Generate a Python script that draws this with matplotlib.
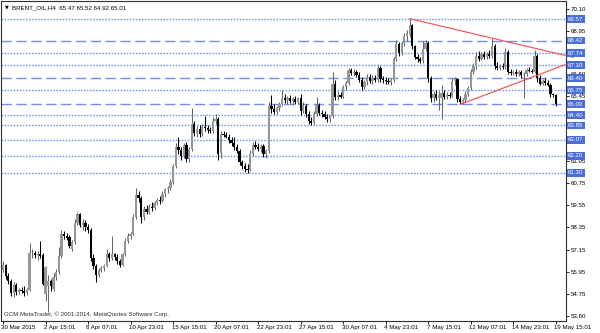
import matplotlib.pyplot as plt
from matplotlib.transforms import blended_transform_factory

# BRENT_OIL H4 candles (one value per bar)
opens = [56.05, 56.35, 55.75, 55.45, 54.80, 55.25, 54.85, 55.00, 54.90, 54.80,
         55.00, 56.95, 57.00, 56.85, 56.90, 56.85, 54.75, 55.20, 55.45, 55.05,
         55.70, 55.95, 56.80, 58.00, 57.90, 57.85, 57.20, 57.55, 58.60, 59.05,
         58.50, 58.60, 58.35, 58.20, 56.70, 56.25, 55.80, 56.05, 56.15, 56.30,
         56.90, 56.70, 56.90, 56.75, 56.55, 56.35, 56.90, 57.60, 57.90, 58.00,
         58.90, 60.10, 59.95, 58.90, 59.35, 59.20, 59.45, 59.40, 59.65, 59.85,
         59.75, 60.15, 60.40, 60.50, 60.80, 61.65, 62.70, 62.50, 62.20, 62.80,
         62.05, 62.55, 63.90, 63.45, 63.65, 63.40, 63.75, 63.70, 63.60, 63.55,
         64.10, 64.20, 62.35, 63.40, 63.35, 63.25, 63.05, 62.90, 62.70, 62.45,
         61.85, 61.65, 61.50, 61.45, 62.30, 62.80, 62.70, 62.60, 62.75, 62.30,
         62.45, 64.90, 64.75, 64.55, 64.80, 65.00, 65.35, 65.20, 65.30, 65.15,
         65.25, 65.10, 65.30, 64.60, 64.90, 64.45, 64.10, 64.00, 64.45, 64.95,
         64.50, 64.45, 64.30, 64.20, 64.35, 66.10, 65.40, 65.50, 65.40, 65.90,
         66.15, 66.85, 66.65, 66.75, 66.55, 66.30, 65.90, 66.20, 66.45, 66.25,
         66.40, 66.30, 66.95, 66.35, 66.30, 66.25, 66.20, 66.30, 67.40, 68.25,
         67.75, 68.30, 68.65, 68.70, 69.25, 68.10, 67.55, 67.40, 67.30, 67.95,
         68.30, 66.40, 65.30, 65.55, 65.35, 65.30, 65.60, 65.40, 65.50, 65.45,
         66.25, 66.35, 65.25, 65.10, 65.20, 65.55, 65.85, 66.75, 67.05, 67.60,
         67.45, 67.70, 67.55, 67.70, 67.60, 68.15, 67.05, 66.95, 67.05, 67.00,
         67.80, 66.75, 66.65, 66.75, 66.60, 66.70, 66.55, 66.60, 66.85, 66.80,
         66.75, 67.60, 66.40, 66.10, 66.25, 66.15, 66.05, 65.55, 65.47]
highs = [56.55, 56.40, 55.90, 55.60, 55.40, 55.35, 55.10, 55.15, 55.20, 55.10,
         57.50, 57.20, 57.10, 57.10, 57.60, 56.95, 56.30, 55.80, 55.60, 55.90,
         56.10, 57.30, 58.20, 58.15, 58.05, 57.95, 57.70, 58.80, 59.20, 59.15,
         58.80, 58.75, 58.55, 58.30, 56.90, 56.40, 56.15, 56.25, 56.40, 57.20,
         57.05, 57.90, 57.00, 56.90, 56.65, 57.00, 57.80, 58.05, 58.10, 59.10,
         60.50, 60.30, 60.05, 59.50, 59.55, 59.60, 59.70, 59.80, 59.95, 60.05,
         60.30, 60.50, 60.60, 60.95, 61.75, 62.90, 63.20, 62.70, 62.90, 62.95,
         62.70, 64.80, 64.10, 63.80, 63.85, 63.90, 64.35, 63.85, 63.75, 64.30,
         64.45, 64.30, 63.55, 63.55, 63.50, 63.40, 63.25, 63.20, 62.85, 62.60,
         62.00, 61.80, 61.75, 62.50, 62.95, 63.00, 62.90, 62.85, 62.85, 62.55,
         65.10, 65.50, 65.00, 64.90, 65.10, 65.75, 65.55, 65.45, 65.50, 65.40,
         65.45, 65.40, 65.55, 65.10, 65.00, 64.60, 64.30, 64.60, 65.40, 65.05,
         64.70, 64.60, 64.45, 64.40, 66.70, 66.30, 65.70, 65.65, 66.00, 66.25,
         66.95, 66.95, 66.90, 66.85, 66.70, 66.45, 66.30, 66.60, 66.60, 66.55,
         66.55, 67.10, 67.05, 66.50, 66.45, 66.40, 66.40, 67.55, 68.45, 68.35,
         68.40, 68.80, 69.00, 69.60, 69.30, 68.20, 67.70, 67.55, 68.40, 68.45,
         68.40, 66.50, 65.70, 65.75, 65.70, 66.00, 65.75, 65.65, 65.65, 66.40,
         66.45, 66.40, 65.45, 65.35, 65.70, 65.95, 66.90, 67.20, 67.80, 67.85,
         67.80, 67.85, 67.80, 67.90, 68.55, 68.25, 67.25, 67.15, 67.20, 68.00,
         67.90, 66.90, 66.85, 66.90, 66.85, 66.85, 66.75, 66.95, 67.00, 66.90,
         67.90, 67.70, 66.55, 66.35, 66.40, 66.30, 66.15, 65.60, 65.52]
lows = [55.95, 55.60, 55.30, 54.65, 54.60, 54.70, 54.75, 54.80, 54.65, 54.70,
        54.95, 56.70, 56.70, 56.60, 56.70, 55.25, 54.40, 53.80, 54.95, 54.95,
        55.50, 55.85, 56.70, 57.75, 57.70, 57.25, 57.10, 57.45, 58.50, 58.40,
        58.20, 58.15, 58.05, 56.55, 56.10, 55.40, 55.70, 55.95, 56.00, 56.20,
        56.55, 56.60, 56.60, 56.40, 56.20, 56.30, 56.80, 57.50, 57.75, 57.95,
        58.80, 59.70, 58.60, 58.75, 59.05, 59.10, 59.25, 59.30, 59.55, 59.60,
        59.70, 60.00, 60.20, 60.35, 60.70, 61.55, 62.30, 62.00, 62.10, 61.90,
        61.85, 62.45, 63.30, 63.20, 63.25, 63.30, 63.55, 63.45, 63.45, 63.45,
        63.95, 62.00, 62.10, 63.25, 63.15, 62.90, 62.75, 62.50, 62.35, 61.70,
        61.50, 61.35, 61.30, 61.40, 62.20, 62.55, 62.45, 62.40, 62.15, 62.10,
        62.35, 64.50, 64.45, 64.45, 64.60, 64.90, 65.05, 65.00, 65.05, 64.95,
        65.00, 65.00, 64.40, 64.50, 64.30, 63.95, 63.85, 63.95, 64.35, 64.40,
        64.30, 64.20, 64.05, 64.05, 64.25, 65.20, 65.20, 65.30, 65.30, 65.75,
        66.05, 66.55, 66.50, 66.45, 66.20, 65.75, 65.80, 66.05, 66.15, 66.10,
        66.20, 66.20, 66.20, 66.15, 66.10, 66.10, 66.05, 66.20, 67.30, 67.60,
        67.65, 68.10, 68.40, 68.60, 67.95, 67.40, 67.25, 67.20, 67.20, 67.85,
        66.20, 65.10, 65.10, 65.20, 64.70, 64.20, 65.25, 65.25, 65.30, 65.40,
        66.05, 65.10, 64.98, 65.00, 65.10, 65.45, 65.75, 66.60, 66.90, 67.30,
        67.35, 67.45, 67.45, 67.50, 67.50, 66.90, 66.85, 66.85, 66.90, 66.90,
        66.60, 66.55, 66.55, 66.50, 66.50, 66.40, 65.30, 66.50, 66.70, 66.65,
        66.65, 66.20, 66.00, 66.00, 66.05, 65.95, 65.40, 65.40, 64.92]
closes = [56.35, 55.75, 55.45, 54.80, 55.25, 54.85, 55.00, 54.90, 54.80, 55.00,
          56.95, 57.00, 56.85, 56.90, 56.80, 55.30, 56.20, 55.45, 55.20, 55.70,
          55.95, 56.80, 58.00, 57.90, 57.80, 57.35, 57.55, 58.60, 59.05, 58.50,
          58.60, 58.35, 58.20, 56.70, 56.25, 55.80, 56.05, 56.15, 56.30, 56.90,
          56.70, 56.90, 56.75, 56.55, 56.35, 56.90, 57.60, 57.90, 58.00, 58.90,
          60.10, 59.95, 58.90, 59.35, 59.20, 59.45, 59.40, 59.65, 59.85, 59.75,
          60.15, 60.40, 60.50, 60.80, 61.65, 62.70, 62.50, 62.20, 62.80, 62.05,
          62.55, 63.90, 63.45, 63.65, 63.40, 63.75, 63.70, 63.60, 63.55, 64.10,
          64.20, 62.30, 63.40, 63.35, 63.25, 63.05, 62.90, 62.70, 62.45, 61.85,
          61.65, 61.50, 61.45, 62.30, 62.80, 62.70, 62.60, 62.75, 62.30, 62.45,
          64.90, 64.75, 64.55, 64.80, 65.00, 65.35, 65.20, 65.30, 65.15, 65.25,
          65.10, 65.30, 64.60, 64.90, 64.45, 64.10, 64.00, 64.45, 64.95, 64.50,
          64.45, 64.30, 64.20, 64.35, 66.10, 65.40, 65.50, 65.40, 65.90, 66.15,
          66.85, 66.65, 66.75, 66.55, 66.30, 65.90, 66.20, 66.45, 66.25, 66.40,
          66.30, 66.95, 66.35, 66.30, 66.25, 66.20, 66.30, 67.40, 68.25, 67.75,
          68.30, 68.65, 68.85, 69.25, 68.10, 67.55, 67.40, 67.30, 67.95, 68.30,
          66.40, 65.30, 65.55, 65.35, 65.50, 65.60, 65.40, 65.50, 65.45, 66.25,
          66.35, 65.25, 65.10, 65.20, 65.55, 65.85, 66.75, 67.05, 67.60, 67.45,
          67.70, 67.55, 67.70, 67.60, 68.15, 67.05, 66.95, 67.05, 67.00, 67.80,
          66.75, 66.65, 66.75, 66.60, 66.70, 66.55, 66.60, 66.85, 66.80, 66.75,
          67.60, 66.40, 66.10, 66.25, 66.15, 66.05, 65.55, 65.47, 65.01]

time_labels = ["30 Mar 2015", "2 Apr 15:01", "8 Apr 07:01", "10 Apr 23:01",
               "15 Apr 15:01", "20 Apr 07:01", "22 Apr 23:01", "27 Apr 15:01",
               "30 Apr 07:01", "4 May 23:01", "7 May 15:01", "12 May 07:01",
               "14 May 23:01", "19 May 15:01"]
label_every = 16

# price scale labels that are not hidden behind the level boxes
price_ticks = [70.10, 68.95, 66.60, 65.45, 61.95, 60.75, 59.55,
               58.35, 57.15, 55.95, 54.75, 53.60]
levels = [69.57, 68.42, 67.74, 67.10, 66.40, 65.75, 65.00,
          64.40, 63.85, 63.07, 62.20, 61.30]
dashed_levels = [68.42, 66.40, 65.00]

# trend lines: two anchor points each (bar, price)
upper_bars, upper_prices = [153, 184], [69.60, 68.55]
lower_bars, lower_prices = [172, 196], [64.98, 66.28]

plt.rcParams['font.family'] = ['Liberation Sans', 'DejaVu Sans']
fs = 4.4
bull_body = '#969696'
bull_wick = '#666666'
bear_col = '#000000'
level_col = '#6f90ee'

fig = plt.figure(figsize=(6, 3.33), dpi=100)
ax = fig.add_axes([0.0017, 0.036, 0.9417, 0.961])

n = len(closes)
for i in range(n):
    up = closes[i] >= opens[i]
    ax.vlines(i, lows[i], highs[i], color=bull_wick if up else bear_col,
              lw=0.75, zorder=3)
    bottom = min(opens[i], closes[i])
    h = max(abs(closes[i] - opens[i]), 0.04)
    ax.bar(i, h, bottom=bottom, width=0.85, color=bull_body if up else bear_col,
           lw=0, zorder=4)

# horizontal levels
for lv in levels:
    if lv in dashed_levels:
        ls = (0, (7.5, 3.2))
    else:
        ls = (0, (1.1, 1.1))
    ax.axhline(lv, color=level_col, lw=1.0, linestyle=ls, zorder=2)

# trend lines, drawn as rays to the right edge
x_end = 214.5
for bx, py in [(upper_bars, upper_prices), (lower_bars, lower_prices)]:
    slope = (py[1] - py[0]) / (bx[1] - bx[0])
    ax.plot([bx[0], x_end], [py[0], py[0] + slope * (x_end - bx[0])],
            color='#f24b4b', lw=0.8, zorder=5, clip_on=False)

ax.set_xlim(-0.75, 211.85)
ax.set_ylim(53.31, 70.55)

for s in ax.spines.values():
    s.set_color('#303030')
    s.set_linewidth(0.8)

# price scale on the right
ax.yaxis.tick_right()
ax.set_yticks(price_ticks)
ax.set_yticklabels(['%.2f' % p for p in price_ticks])
ax.tick_params(axis='y', length=2, width=0.6, pad=1.5, labelsize=fs, colors='black')

# level labels in blue boxes
trans_y = blended_transform_factory(ax.transAxes, ax.transData)
for lv in levels:
    ax.text(1.0035, lv, '%.2f' % lv, transform=trans_y, ha='left', va='center',
            fontsize=fs, color='white', zorder=10, clip_on=False,
            bbox=dict(boxstyle='square,pad=0.22', fc='#4a6edb', ec='none'))

# time scale
ticks = list(range(0, n, label_every))
ax.set_xticks(ticks)
ax.set_xticklabels([''] * len(ticks))
ax.tick_params(axis='x', length=2, width=0.6, direction='out')
trans_x = blended_transform_factory(ax.transData, ax.transAxes)
for t, lab in zip(ticks, time_labels):
    ax.text(t - 0.6, -0.012, lab, transform=trans_x, ha='left', va='top',
            fontsize=fs, color='black', clip_on=False)

# header and watermark
fig.text(0.008, 0.978, '\u25bc', fontsize=3.5, va='center', family='DejaVu Sans')
fig.text(0.02, 0.978, 'BRENT_OIL,H4  65.47 65.52 64.92 65.01', fontsize=fs, va='center')
ax.text(0.006, 0.012, 'GCM MetaTrader, \u00a9 2001-2014, MetaQuotes Software Corp.',
        transform=ax.transAxes, fontsize=fs, color='#303030', va='bottom')

plt.savefig('out.png', dpi=100)
